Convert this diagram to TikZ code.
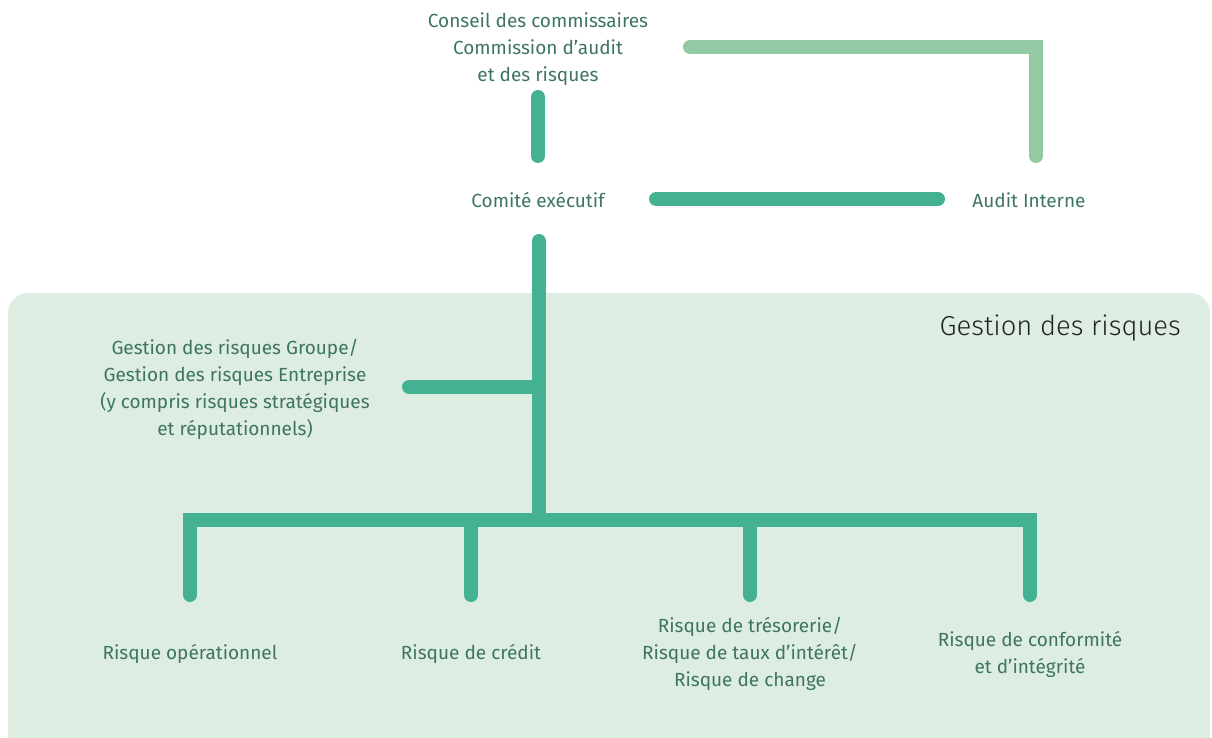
\documentclass[tikz,border=0pt]{standalone}
\usepackage{fontspec}
\setmainfont{Fira Sans}
\newfontfamily\lightfont{Fira Sans Light}
\definecolor{txtgreen}{HTML}{3D7560}
\definecolor{bargreen}{HTML}{44B292}
\definecolor{lightbar}{HTML}{93C9A3}
\definecolor{panelbg}{HTML}{DEEDE2}
\definecolor{titlecol}{HTML}{222222}
\tikzset{
  lbl/.style={text=txtgreen, font=\fontsize{19}{27}\selectfont, align=center, inner sep=0pt},
  bar/.style={draw=bargreen, line width=14pt, line cap=round, line join=miter},
  lbar/.style={draw=lightbar, line width=14pt, line cap=round, line join=miter},
}
\begin{document}
\begin{tikzpicture}[x=1pt,y=-1pt]
\useasboundingbox (0,0) rectangle (1212,738);
\clip (0,0) rectangle (1212,738);
% panel
\fill[panelbg, rounded corners=20pt] (8,293) rectangle (1210,770);
\node[anchor=east, text=titlecol, font=\lightfont\fontsize{27.4}{31}\selectfont, inner sep=0pt] (title) at (1181,328) {Gestion des risques};
% labels
\node[lbl] (conseil) at (538,49) {Conseil des commissaires\\Commission d’audit\\et des risques};
\node[lbl] (comex) at (538,200) {Comité exécutif};
\node[lbl] (audit) at (1029,200) {Audit Interne};
\node[lbl] (grm) at (235,389) {Gestion des risques Groupe/\\Gestion des risques Entreprise\\(y compris risques stratégiques\\et réputationnels)};
\node[lbl] (op) at (190,654) {Risque opérationnel};
\node[lbl] (cred) at (471,654) {Risque de crédit};
\node[lbl] (treso) at (750,654) {Risque de trésorerie/\\Risque de taux d’intérêt/\\Risque de change};
\node[lbl] (conf) at (1030,654) {Risque de conformité\\et d’intégrité};
% coordinates
\coordinate (c1) at (538,97);
\coordinate (c2) at (538,156);
\coordinate (a1) at (690,47);
\coordinate (a2) at (1036,47);
\coordinate (a3) at (1036,156);
\coordinate (h1) at (656,199);
\coordinate (h2) at (938,199);
\coordinate (m1) at (539,241);
\coordinate (m2) at (539,520);
\coordinate (g1) at (409,387);
\coordinate (g2) at (539,387);
\coordinate (b1) at (190,595);
\coordinate (b1t) at (190,520);
\coordinate (b4t) at (1030,520);
\coordinate (b4) at (1030,595);
\coordinate (b2t) at (471,520);
\coordinate (b2) at (471,595);
\coordinate (b3t) at (750,520);
\coordinate (b3) at (750,595);
% bars
\draw[lbar] (a1) -- (a2) -- (a3);
\draw[bar] (c1) -- (c2);
\draw[bar] (h1) -- (h2);
\draw[bar, line cap=butt] (m1) -- (m2);
\draw[bar] (m1) -- +(0,0.1);
\draw[bar, line cap=butt] (g2) -- (g1);
\draw[bar] (g1) -- +(0.1,0);
\draw[bar] (b1) -- (b1t) -- (b4t) -- (b4);
\draw[bar, line cap=butt] (b2t) -- (b2);
\draw[bar] (b2) -- +(0,-0.1);
\draw[bar, line cap=butt] (b3t) -- (b3);
\draw[bar] (b3) -- +(0,-0.1);
\end{tikzpicture}
\end{document}
